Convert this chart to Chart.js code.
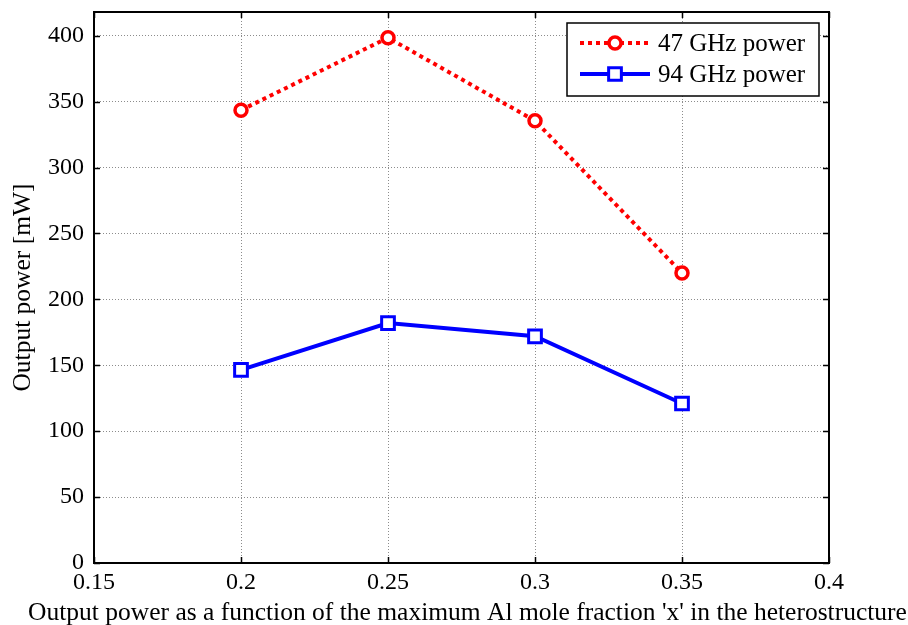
<!DOCTYPE html>
<html>
<head>
<meta charset="utf-8">
<script src="https://cdn.jsdelivr.net/npm/chart.js@4.4.0/dist/chart.umd.min.js"></script>
<style>
  html, body { margin: 0; padding: 0; background: #fff; }
  #wrap { width: 908px; height: 625px; }
</style>
</head>
<body>
<div id="wrap"><canvas id="Chart" width="908" height="625"></canvas></div>
<script>
// Al mole fraction and measured output power
const fractions = [0.2, 0.25, 0.3, 0.35]
const power47 = [343.5, 398.5, 335.5, 220]
const power94 = [146.5, 182, 172, 121]
const xTicks = [0.15, 0.2, 0.25, 0.3, 0.35, 0.4]
const yTicks = [0, 50, 100, 150, 200, 250, 300, 350, 400]
const legendLabels = ['47 GHz power', '94 GHz power']
const xTitle = "Output power as a function of the maximum Al mole fraction 'x' in the heterostructure"
const yTitle = 'Output power [mW]'

const serif = '"Liberation Serif", "Times New Roman", serif'

function toPoints(xs, ys) {
    return xs.map((x, i) => ({ x: x, y: ys[i] }))
}

// matlab style box with inward ticks
const boxTicks = {
    id: 'boxTicks',
    beforeDatasetsDraw(chart) {
        const { ctx, chartArea: a, scales } = chart
        ctx.save()
        ctx.strokeStyle = '#000'
        ctx.lineWidth = 1.5
        const len = 6
        ctx.beginPath()
        xTicks.forEach(v => {
            const px = Math.round(scales.x.getPixelForValue(v)) + 0.5
            ctx.moveTo(px, a.bottom); ctx.lineTo(px, a.bottom - len)
            ctx.moveTo(px, a.top); ctx.lineTo(px, a.top + len)
        })
        yTicks.forEach(v => {
            const py = Math.round(scales.y.getPixelForValue(v)) + 0.5
            ctx.moveTo(a.left, py); ctx.lineTo(a.left + len, py)
            ctx.moveTo(a.right, py); ctx.lineTo(a.right - len, py)
        })
        ctx.stroke()
        ctx.lineWidth = 2
        ctx.strokeRect(a.left, a.top, a.right - a.left, a.bottom - a.top)
        ctx.restore()
    }
}

// axis titles, drawn by hand so the long x title is not squeezed
const axisTitles = {
    id: 'axisTitles',
    afterDraw(chart) {
        const { ctx, chartArea: a } = chart
        ctx.save()
        ctx.fillStyle = '#000'
        ctx.font = '25.5px ' + serif
        ctx.textAlign = 'center'
        ctx.textBaseline = 'alphabetic'
        ctx.fillText(xTitle, (a.left + a.right) / 2 + 6, 620)
        ctx.translate(23, (a.top + a.bottom) / 2)
        ctx.rotate(-Math.PI / 2)
        ctx.textBaseline = 'middle'
        ctx.fillText(yTitle, 0, 0)
        ctx.restore()
    }
}

// legend box in the top right corner of the axes
const boxLegend = {
    id: 'boxLegend',
    afterDraw(chart) {
        const { ctx, chartArea: a } = chart
        const x0 = a.right - 262, y0 = a.top + 11, w = 252, h = 73
        ctx.save()
        ctx.fillStyle = '#fff'
        ctx.fillRect(x0, y0, w, h)
        ctx.strokeStyle = '#000'
        ctx.lineWidth = 1.5
        ctx.strokeRect(x0, y0, w, h)
        chart.data.datasets.forEach((ds, i) => {
            const ly = y0 + 20 + i * 31
            ctx.strokeStyle = ds.borderColor
            ctx.lineWidth = ds.borderWidth
            ctx.setLineDash(ds.borderDash || [])
            ctx.beginPath()
            ctx.moveTo(x0 + 13, ly); ctx.lineTo(x0 + 83, ly)
            ctx.stroke()
            ctx.setLineDash([])
            ctx.fillStyle = '#fff'
            ctx.strokeStyle = ds.borderColor
            ctx.lineWidth = ds.pointBorderWidth
            ctx.beginPath()
            if (ds.pointStyle === 'circle') {
                ctx.arc(x0 + 48, ly, ds.pointRadius, 0, Math.PI * 2)
            } else {
                const s = ds.pointRadius * Math.SQRT1_2
                ctx.rect(x0 + 48 - s, ly - s, 2 * s, 2 * s)
            }
            ctx.fill(); ctx.stroke()
            ctx.fillStyle = '#000'
            ctx.font = '25px ' + serif
            ctx.textBaseline = 'middle'
            ctx.fillText(legendLabels[i], x0 + 91, ly + 1)
        })
        ctx.restore()
    }
}

const ctx = document.getElementById('Chart').getContext('2d')
const myChart = new Chart(ctx, {
    type: 'line',
    data: {
        datasets: [{
            label: legendLabels[0],
            data: toPoints(fractions, power47),
            borderColor: '#ff0000',
            borderWidth: 4,
            borderDash: [4, 4],
            pointStyle: 'circle',
            pointRadius: 6,
            pointBorderWidth: 3.5,
            pointBackgroundColor: '#fff',
            pointBorderColor: '#ff0000'
        }, {
            label: legendLabels[1],
            data: toPoints(fractions, power94),
            borderColor: '#0000ff',
            borderWidth: 4,
            pointStyle: 'rect',
            pointRadius: 9,
            pointBorderWidth: 3,
            pointBackgroundColor: '#fff',
            pointBorderColor: '#0000ff'
        }]
    },
    options: {
        responsive: false,
        animation: false,
        layout: { padding: { top: 12, right: 79, left: 0, bottom: 0 } },
        plugins: { legend: { display: false }, tooltip: { enabled: false } },
        scales: {
            x: {
                type: 'linear',
                min: 0.15,
                max: 0.4,
                afterBuildTicks: (s) => { s.ticks = xTicks.map(v => ({ value: v })) },
                afterFit: (s) => { s.height = 62; s.paddingLeft = 0; s.paddingRight = 0 },
                grid: { color: '#8c8c8c', lineWidth: 1, drawTicks: false },
                border: { display: false, dash: [1, 2] },
                ticks: {
                    color: '#000',
                    font: { family: serif, size: 24 },
                    padding: 5,
                    maxRotation: 0,
                    callback: (v) => String(Number(v.toFixed(2)))
                }
            },
            y: {
                min: 0,
                max: 418,
                afterBuildTicks: (s) => { s.ticks = yTicks.map(v => ({ value: v })) },
                afterFit: (s) => { s.width = 94; s.paddingTop = 0; s.paddingBottom = 0 },
                grid: { color: '#8c8c8c', lineWidth: 1, drawTicks: false },
                border: { display: false, dash: [1, 2] },
                ticks: {
                    color: '#000',
                    font: { family: serif, size: 24 },
                    padding: 10
                }
            }
        }
    },
    plugins: [boxTicks, boxLegend, axisTitles]
})
</script>
</body>
</html>
